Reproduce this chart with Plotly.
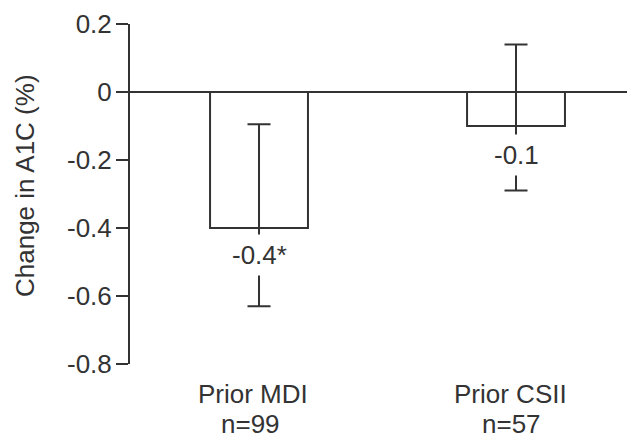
import plotly.graph_objects as go

categories = ["Prior MDI", "Prior CSII"]
sample_sizes = ["n=99", "n=57"]
mean_change = [-0.4, -0.1]
ci_upper = [-0.095, 0.14]
ci_lower = [-0.63, -0.29]
value_labels = ["-0.4*", "-0.1"]
label_y = [-0.48, -0.184]
y_ticks = [0.2, 0, -0.2, -0.4, -0.6, -0.8]
y_tick_text = ["0.2", "0", "-0.2", "-0.4", "-0.6", "-0.8"]

INK = "#333333"
FONT = "Liberation Sans, Arial, sans-serif"
FS = 26

x_pos = list(range(len(categories)))
err_plus = [u - m for u, m in zip(ci_upper, mean_change)]
err_minus = [m - l for m, l in zip(mean_change, ci_lower)]

fig = go.Figure()
fig.add_trace(go.Bar(
    x=x_pos, y=mean_change, width=0.381,
    marker=dict(color="white", line=dict(color=INK, width=2)),
    error_y=dict(type="data", symmetric=False, array=err_plus, arrayminus=err_minus,
                 color=INK, thickness=2, width=11.5),
    showlegend=False, hoverinfo="skip",
))

for x, y, t in zip(x_pos, label_y, value_labels):
    fig.add_annotation(x=x, y=y, text=t, showarrow=False, xref="x", yref="y",
                       bgcolor="white", height=40, borderpad=0,
                       font=dict(family=FONT, size=FS, color=INK))

name_shift = [-6, -6]
n_shift = [-9, -5]
for x, c, n, s1, s2 in zip(x_pos, categories, sample_sizes, name_shift, n_shift):
    fig.add_annotation(x=x, y=0, xref="x", yref="paper", text=c, showarrow=False,
                       xanchor="center", yanchor="middle", yshift=-30, xshift=s1,
                       font=dict(family=FONT, size=FS, color=INK))
    fig.add_annotation(x=x, y=0, xref="x", yref="paper", text=n, showarrow=False,
                       xanchor="center", yanchor="middle", yshift=-60, xshift=s2,
                       font=dict(family=FONT, size=FS, color=INK))

fig.add_annotation(x=-0.2079, y=0.5235, xref="paper", yref="paper", text="Change in A1C (%)",
                   textangle=-90, showarrow=False, xanchor="center", yanchor="middle",
                   font=dict(family=FONT, size=FS, color=INK))

fig.update_layout(
    width=627, height=429,
    margin=dict(l=122, r=0, t=16, b=73),
    paper_bgcolor="white", plot_bgcolor="white",
    font=dict(family=FONT, size=FS, color=INK),
    xaxis=dict(range=[-0.502, 1.463], showticklabels=False,
               showline=False, showgrid=False, zeroline=False, ticks=""),
    yaxis=dict(range=[-0.8, 0.2], tickvals=y_ticks, ticktext=y_tick_text,
               showline=True, linecolor=INK, linewidth=2,
               ticks="outside", ticklen=12, tickwidth=2, tickcolor=INK,
               showgrid=False, zeroline=True, zerolinecolor=INK, zerolinewidth=2,
               ticklabelstandoff=-1,
               tickfont=dict(family=FONT, size=FS, color=INK)),
)

fig.write_html("out.html")
